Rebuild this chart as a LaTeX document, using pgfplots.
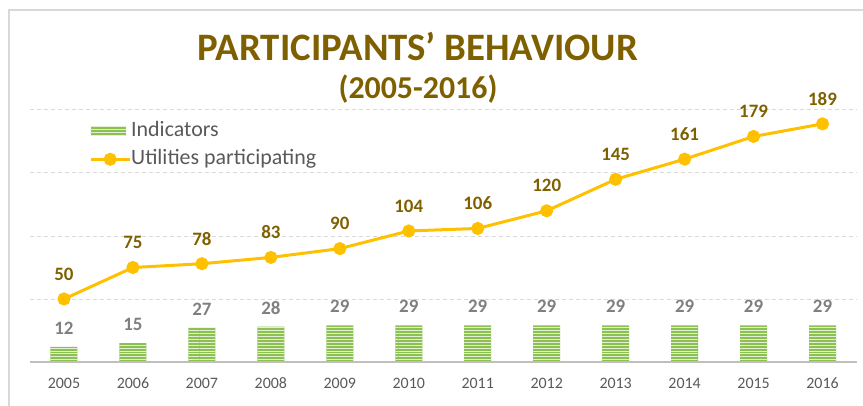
\documentclass[border=0pt]{standalone}
\usepackage{pgfplots}
\pgfplotsset{compat=1.18}
\usepackage{fontspec}
\setmainfont{Carlito}
\usetikzlibrary{patterns}
\definecolor{titlebrown}{HTML}{7F6000}
\definecolor{lineyellow}{HTML}{FFC000}
\definecolor{bargreen}{HTML}{8CC152}
\definecolor{ticgray}{HTML}{595959}
\definecolor{lblgray}{HTML}{7F7F7F}
\definecolor{gridgray}{HTML}{D9D9D9}
\definecolor{axisgray}{HTML}{BFBFBF}
\pgfplotstableread{
x year ind util
0 2005 12 50
1 2006 15 75
2 2007 27 78
3 2008 28 83
4 2009 29 90
5 2010 29 104
6 2011 29 106
7 2012 29 120
8 2013 29 145
9 2014 29 161
10 2015 29 179
11 2016 29 189
}\data
\begin{document}
\begin{tikzpicture}[x=1bp,y=1bp]
\path[use as bounding box] (0,0) rectangle (863,405);
\draw[gridgray, line width=2bp] (9,-5) -- (9,395) -- (870,395);
\node[anchor=base, font=\fontsize{39}{42}\selectfont\bfseries, text=titlebrown] at (418,345) {PARTICIPANTS’ BEHAVIOUR};
\node[anchor=base, font=\fontsize{32}{35}\selectfont\bfseries, text=titlebrown] at (418,307) {(2005-2016)};
\begin{axis}[
  at={(29.5bp,43bp)}, anchor=south west,
  scale only axis, width=827.5bp, height=252bp,
  xmin=-0.5, xmax=11.5, ymin=0, ymax=200,
  axis line style={draw=none},
  ytick={50,100,150,200}, yticklabels={}, ymajorgrids,
  major grid style={gridgray, dashed, line width=1bp, dash pattern=on 4bp off 3bp},
  xtick={0,...,11},
  xticklabels={2005,2006,2007,2008,2009,2010,2011,2012,2013,2014,2015,2016},
  tick style={draw=none},
  major tick length=0pt,
  ticklabel style={font=\fontsize{16}{18}\selectfont, text=ticgray},
  xticklabel style={anchor=base, yshift=-26bp},
  /pgf/number format/assume math mode=true,
  clip=false,
  legend style={at={(0.0719,0.956)}, anchor=north west, draw=none, fill=none,
    font=\fontsize{22}{24}\selectfont, text=ticgray, row sep=8bp, inner sep=0pt,
    nodes={inner sep=0pt, text height=15bp, text depth=5bp},
    /tikz/every even column/.append style={column sep=4bp}},
  legend cell align=left,
]
\addplot[ybar, bar width=27bp, draw=none, fill=bargreen,
  postaction={pattern=horizontal lines, pattern color=white!75!bargreen},
  nodes near coords, every node near coord/.append style={anchor=center, yshift=19bp, font=\fontsize{19}{21}\selectfont\bfseries, text=lblgray},
  legend image code/.code={\fill[bargreen] (0bp,-5bp) rectangle (35bp,5bp);
    \fill[pattern=horizontal lines, pattern color=white!75!bargreen] (0bp,-5bp) rectangle (35bp,5bp);}
  ] table[x=x,y=ind]{\data};
\addlegendentry{Indicators}
\addplot[lineyellow, line width=3bp, mark=*, mark size=5bp, mark options={fill=lineyellow, draw=lineyellow},
  nodes near coords, every node near coord/.append style={anchor=center, yshift=25bp, font=\fontsize{19}{21}\selectfont\bfseries, text=titlebrown},
  legend image code/.code={\draw[lineyellow, line width=3bp] (0bp,0bp) -- (39bp,0bp);
    \fill[lineyellow] (19.5bp,0bp) circle (5bp);}]
  table[x=x,y=util]{\data};
\addlegendentry{Utilities participating}
\draw[axisgray, line width=2bp] (axis cs:-0.5,0) -- (axis cs:11.5,0);
\end{axis}
\end{tikzpicture}
\end{document}
